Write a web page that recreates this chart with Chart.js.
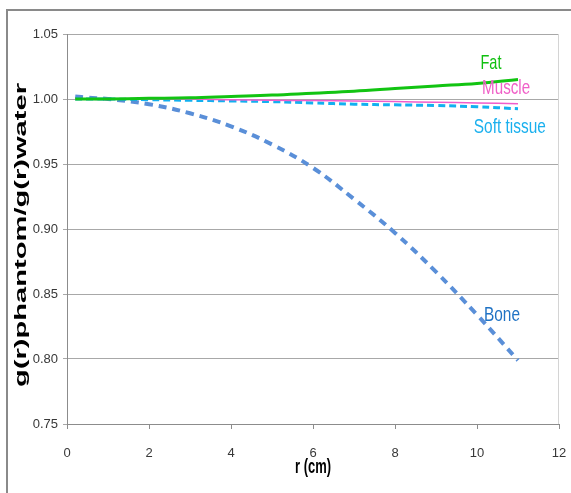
<!DOCTYPE html>
<html>
<head>
<meta charset="utf-8">
<script src="https://cdn.jsdelivr.net/npm/chart.js@4.4.0/dist/chart.umd.min.js"></script>
<style>
  body { margin: 0; background: #fff; }
  #wrap { width: 571px; height: 493px; position: relative; }
</style>
</head>
<body>
<div id="wrap"><canvas id="myChart" width="571" height="493"></canvas></div>
<script>
// radial distance r (cm)
var rValues = [0.2, 0.5, 1, 2, 3, 4, 5, 6, 7, 8, 9, 10, 11];

// g(r) ratio phantom / water
var fatValues    = [1.000, 1.000, 1.000, 1.0005, 1.001, 1.002, 1.003, 1.0045, 1.006, 1.008, 1.010, 1.012, 1.015];
var muscleValues = [1.000, 1.000, 1.000, 1.000, 1.000, 0.9995, 0.999, 0.9988, 0.9985, 0.998, 0.9975, 0.997, 0.9963];
var softValues   = [1.000, 1.000, 1.000, 0.9995, 0.999, 0.9985, 0.998, 0.997, 0.996, 0.9955, 0.995, 0.994, 0.9925];
var boneValues   = [1.002, 1.001, 1.000, 0.996, 0.989, 0.979, 0.965, 0.947, 0.923, 0.897, 0.867, 0.834, 0.799];

var xTicks = [0, 2, 4, 6, 8, 10, 12];
var yTicks = [0.75, 0.80, 0.85, 0.90, 0.95, 1.00, 1.05];

// names next to each curve: [text, r, value, colour, width]
var curveLabels = [
  ["Fat", 10.34, 1.0272, "#10c010", 21],
  ["Muscle", 10.71, 1.008, "#f060c8", 48],
  ["Soft tissue", 10.8, 0.9786, "#1ab0ee", 72],
  ["Bone", 10.61, 0.8337, "#1f72c4", 36]
];

function pts(vals) {
  return rValues.map(function (r, i) { return {x: r, y: vals[i]}; });
}

var sans = "'Liberation Sans', Arial, sans-serif";

// text squeezed or stretched to a given width, centred on (x, y)
function fitText(ctx, text, x, y, width, rot) {
  var w = ctx.measureText(text).width;
  ctx.save();
  ctx.translate(x, y);
  ctx.rotate(rot || 0);
  ctx.scale(width / w, 1);
  ctx.fillText(text, 0, 0);
  ctx.restore();
}

// frame, plot border, axis titles and curve names
var extras = {
  id: "extras",
  afterDraw: function (chart) {
    var ctx = chart.ctx, a = chart.chartArea;
    var xs = chart.scales.x, ys = chart.scales.y;
    ctx.save();
    ctx.strokeStyle = "#8a8a8a";
    ctx.lineWidth = 2;
    ctx.beginPath();
    ctx.moveTo(7, 493);
    ctx.lineTo(7, 10);
    ctx.lineTo(571, 10);
    ctx.stroke();

    ctx.strokeStyle = "#d4d4d4";
    ctx.lineWidth = 1;
    ctx.beginPath();
    ctx.moveTo(a.right - 0.5, a.top);
    ctx.lineTo(a.right - 0.5, a.bottom);
    ctx.stroke();

    ctx.textAlign = "center";
    ctx.textBaseline = "middle";
    ctx.fillStyle = "#000";
    ctx.font = "bold 16px " + sans;
    fitText(ctx, "g(r)phantom/g(r)water", 22, 235, 304, -Math.PI / 2);
    ctx.font = "bold 20px " + sans;
    fitText(ctx, "r (cm)", (a.left + a.right) / 2, 467, 36, 0);

    ctx.font = "21px " + sans;
    curveLabels.forEach(function (l) {
      ctx.fillStyle = l[3];
      fitText(ctx, l[0], xs.getPixelForValue(l[1]), ys.getPixelForValue(l[2]), l[4], 0);
    });
    ctx.restore();
  }
};

new Chart("myChart", {
  type: "line",
  data: {
    datasets: [
      {label: "Fat", data: pts(fatValues), borderColor: "#12c412", borderWidth: 3},
      {label: "Muscle", data: pts(muscleValues), borderColor: "#f05ccb", borderWidth: 1.5},
      {label: "Soft tissue", data: pts(softValues), borderColor: "#12b0f0", borderWidth: 3, borderDash: [7, 4]},
      {label: "Bone", data: pts(boneValues), borderColor: "#5a8fd8", borderWidth: 4, borderDash: [8, 6]}
    ]
  },
  options: {
    responsive: false,
    animation: false,
    elements: {point: {radius: 0}, line: {tension: 0.4}},
    layout: {padding: {left: 0, top: 34, right: 12, bottom: 0}},
    plugins: {legend: {display: false}, tooltip: {enabled: false}},
    scales: {
      x: {
        type: "linear",
        min: 0, max: 12,
        afterFit: function (s) { s.height = 69; s.paddingLeft = 0; s.paddingRight = 0; },
        afterBuildTicks: function (s) { s.ticks = xTicks.map(function (v) { return {value: v}; }); },
        grid: {drawOnChartArea: false, drawTicks: true, tickLength: 5, color: "#8c8c8c"},
        border: {color: "#8c8c8c"},
        ticks: {padding: 17, color: "#383838", font: {family: sans, size: 13}}
      },
      y: {
        min: 0.75, max: 1.05,
        afterFit: function (s) { s.width = 67; },
        afterBuildTicks: function (s) { s.ticks = yTicks.map(function (v) { return {value: v}; }); },
        grid: {drawTicks: true, tickLength: 4, color: "#a8a8a8"},
        border: {color: "#8c8c8c"},
        ticks: {padding: 5, color: "#383838", font: {family: sans, size: 13},
                callback: function (v) { return v.toFixed(2); }}
      }
    }
  },
  plugins: [extras]
});
</script>
</body>
</html>
